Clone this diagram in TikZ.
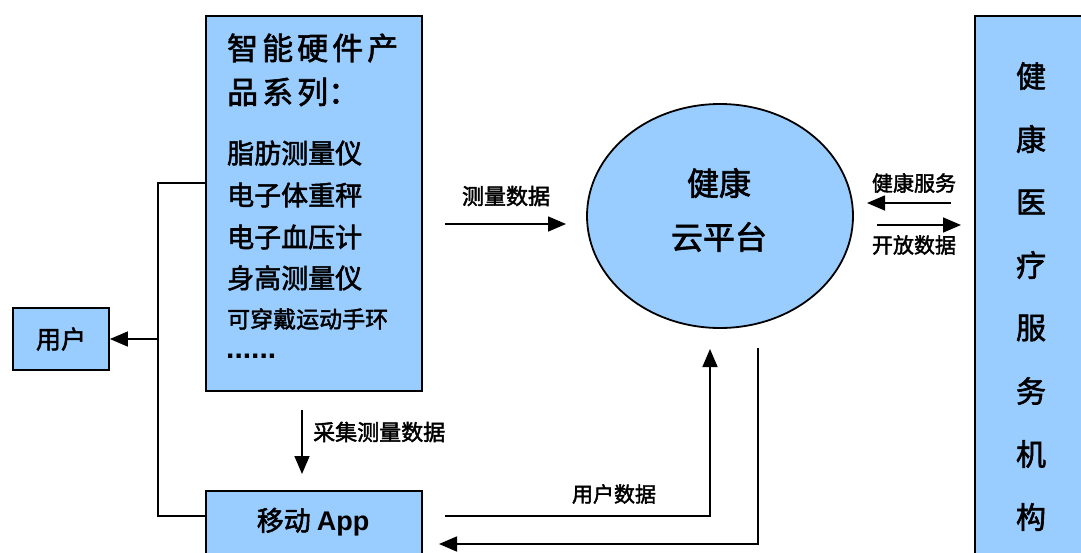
\documentclass[tikz,border=0pt]{standalone}
\usepackage{fontspec}
\setmainfont{Noto Sans CJK SC}[FakeBold=2]
\newfontfamily\latinb{Liberation Sans}
\usetikzlibrary{arrows.meta,shapes.geometric}
\definecolor{boxblue}{HTML}{99CCFF}
\tikzset{
  blk/.style={draw=black, line width=1.8pt, fill=boxblue, inner sep=0pt},
  conn/.style={line width=1.6pt},
  arr/.style={conn, -{Triangle[length=18pt,width=15pt]}},
  lbl/.style={font=\fontsize{21}{21}\selectfont, inner sep=0pt},
  itm/.style={font=\fontsize{27}{27}\selectfont, inner sep=0pt, anchor=west},
  vch/.style={font=\fontsize{30}{30}\selectfont, inner sep=0pt},
}
\begin{document}
\begin{tikzpicture}[x=1pt,y=-1pt]
\useasboundingbox (0,0) rectangle (1081,552);
\fill[white] (0,0) rectangle (1081,552);
% product box
\node[blk, minimum width=216pt, minimum height=375pt, anchor=north west] (prod) at (205,15) {};
\node[itm, font=\fontsize{31}{31}\selectfont] (t1) at (227,48) {智\hspace{4pt}能\hspace{4pt}硬\hspace{4pt}件\hspace{4pt}产};
\node[itm, font=\fontsize{31}{31}\selectfont] (t2) at (227,92) {品\hspace{4pt}系\hspace{4pt}列：};
\node[itm] (i1) at (227,153) {脂肪测量仪};
\node[itm] (i2) at (227,195) {电子体重秤};
\node[itm] (i3) at (227,237) {电子血压计};
\node[itm] (i4) at (227,278) {身高测量仪};
\node[itm, font=\fontsize{23}{23}\selectfont] (i5) at (227,319) {可穿戴运动手环};
\node[itm, font=\fontsize{30}{30}\selectfont\latinb\bfseries] (i6) at (226,356) {......};
% user box
\node[blk, minimum width=96pt, minimum height=62pt, font=\fontsize{25}{25}\selectfont] (user) at (61,339) {用户};
% app box
\node[blk, minimum width=216pt, minimum height=80pt, anchor=north west] (app) at (205,490) {};
\node[font=\fontsize{27}{27}\selectfont, inner sep=0pt] (apptxt) at (313,522) {移动\hspace{6pt}{\latinb\bfseries App}};
% cloud
\node[blk, ellipse, minimum width=266pt, minimum height=224pt] (cloud) at (720,216) {};
\node[font=\fontsize{32}{32}\selectfont, inner sep=0pt] (c1) at (719,183) {健康};
\node[font=\fontsize{32}{32}\selectfont, inner sep=0pt] (c2) at (719,237) {云平台};
% right box
\node[blk, minimum width=130pt, minimum height=560pt, anchor=north west] (inst) at (974,15) {};
\foreach \ch [count=\k from 0] in {健,康,医,疗,服,务,机,构}{
  \node[vch] (v\k) at (1031,{76+63*\k}) {\ch};
}
% connectors
\coordinate (pj) at (205,183);
\coordinate (ptop) at (158,183);
\coordinate (bus) at (158,339);
\coordinate (pbot) at (158,516);
\coordinate (aj) at (205,516);
\draw[conn] (pj) -- (ptop) -- (pbot) -- (aj);
\draw[arr] (bus) -- (user.east);
% collect
\coordinate (ca) at (302,410);
\coordinate (cb) at (302,474);
\draw[arr] (ca) -- (cb);
\node[lbl, font=\fontsize{22}{22}\selectfont, anchor=west] (lcol) at (313,432) {采集测量数据};
% measure
\coordinate (ma) at (445,224);
\coordinate (mb) at (566,224);
\draw[arr] (ma) -- (mb);
\node[lbl, font=\fontsize{22}{22}\selectfont] (lmeas) at (506,196) {测量数据};
% health service / open data
\coordinate (ha) at (951,203);
\coordinate (hb) at (867,203);
\draw[arr] (ha) -- (hb);
\node[lbl] (lhs) at (914,183) {健康服务};
\coordinate (oa) at (877,225);
\coordinate (ob) at (961,225);
\draw[arr] (oa) -- (ob);
\node[lbl] (lod) at (914,245) {开放数据};
% user data
\coordinate (ua) at (445,516);
\coordinate (ub) at (710,516);
\coordinate (uc) at (710,349);
\draw[arr] (ua) -- (ub) -- (uc);
\node[lbl] (lud) at (614,494) {用户数据};
% return
\coordinate (ra) at (758,348);
\coordinate (rb) at (758,544);
\coordinate (rc) at (439,544);
\draw[arr] (ra) -- (rb) -- (rc);
\end{tikzpicture}
\end{document}
